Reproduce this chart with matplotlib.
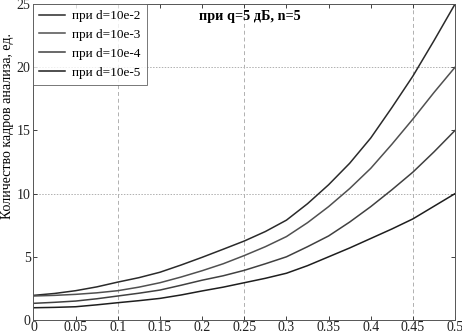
import matplotlib
matplotlib.use("Agg")
import matplotlib.pyplot as plt

plt.rcParams['font.family'] = ['Liberation Serif', 'DejaVu Serif']

# значения (шаг 0.025)
x = [0, 0.025, 0.05, 0.075, 0.1, 0.125, 0.15, 0.175, 0.2, 0.225, 0.25,
     0.275, 0.3, 0.325, 0.35, 0.375, 0.4, 0.425, 0.45, 0.475, 0.5]
d2 = [1.95, 2.1, 2.32, 2.62, 3.0, 3.35, 3.78, 4.35, 4.96, 5.6, 6.25,
      7.0, 7.9, 9.2, 10.7, 12.4, 14.4, 16.8, 19.3, 22.1, 25.0]
d3 = [1.9, 1.95, 2.03, 2.15, 2.32, 2.6, 2.95, 3.4, 3.9, 4.45, 5.1,
      5.8, 6.6, 7.7, 8.97, 10.4, 12.0, 13.9, 15.9, 18.0, 20.0]
d4 = [1.32, 1.4, 1.5, 1.68, 1.9, 2.12, 2.37, 2.75, 3.15, 3.5, 3.93,
      4.45, 5.0, 5.8, 6.65, 7.75, 8.97, 10.3, 11.7, 13.3, 15.0]
d5 = [0.97, 1.0, 1.05, 1.2, 1.37, 1.53, 1.71, 1.98, 2.3, 2.6, 2.95,
      3.3, 3.7, 4.3, 5.0, 5.7, 6.45, 7.2, 8.0, 9.0, 10.0]
series = [d2, d3, d4, d5]
labels = ["при d=10e-2", "при d=10e-3", "при d=10e-4", "при d=10e-5"]
colors = ["#2a2a2a", "#505050", "#404040", "#1e1e1e"]
xticks = [0, 0.05, 0.1, 0.15, 0.2, 0.25, 0.3, 0.35, 0.4, 0.45, 0.5]
xticklabels = ["0", "0.05", "0.1", "0.15", "0.2", "0.25", "0.3", "0.35", "0.4", "0.45", "0.5"]
yticks = [0, 5, 10, 15, 20, 25]

fig = plt.figure(figsize=(4.62, 3.33), dpi=100)
ax = fig.add_axes([0.0725, 0.039, 0.9125, 0.949])

# сетка только на части линий, как на исходнике
for gx in [0.1, 0.25, 0.45]:
    ax.axvline(gx, color="#b0b0b0", lw=0.7, ls=(0, (4, 3)), zorder=0)
for gy in [10, 20]:
    ax.axhline(gy, color="#b0b0b0", lw=0.7, ls=(0, (1.5, 1.5)), zorder=0)

for y, lab, c in zip(series, labels, colors):
    ax.plot(x, y, color=c, lw=1.1, label=lab)

ax.set_xlim(0, 0.5)
ax.set_ylim(0, 25)
ax.set_xticks(xticks)
ax.set_xticklabels(xticklabels)
ax.set_yticks(yticks)
ax.tick_params(direction="in", top=True, right=True, length=3, width=0.6,
               labelsize=10, colors="#222222")
ax.tick_params(axis="x", pad=0.5)
ax.tick_params(axis="y", pad=2)
for s in ax.spines.values():
    s.set_linewidth(0.7)
    s.set_color("#555555")

ax.set_ylabel("Количество кадров анализа, ед.", fontsize=10)
ax.yaxis.set_label_coords(-0.047, 0.615)

leg = ax.legend(loc="upper left", fontsize=9.5, frameon=True, fancybox=False,
                borderaxespad=0, handlelength=1.9, labelspacing=0.5,
                borderpad=0.45, handletextpad=0.6)
leg.get_frame().set_edgecolor("#555555")
leg.get_frame().set_linewidth(0.7)

ax.text(0.514, 0.959, "при q=5 дБ, n=5", transform=ax.transAxes,
        ha="center", va="center", fontsize=10.3, fontweight="bold")

plt.savefig("out.png", dpi=100)
